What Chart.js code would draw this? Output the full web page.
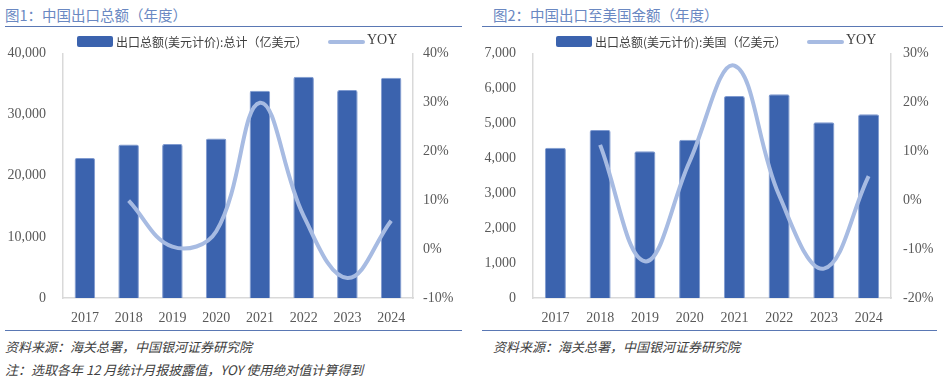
<!DOCTYPE html>
<html>
<head>
<meta charset="utf-8">
<script src="https://cdn.jsdelivr.net/npm/chart.js@4"></script>
<style>
  body { margin: 0; width: 943px; height: 384px; background: #fff; position: relative; overflow: hidden;
         font-family: "Noto Sans CJK SC", sans-serif; }
  .title { position: absolute; top: 4px; font-size: 14.5px; color: #6a88c2; white-space: nowrap; }
  .rule { position: absolute; height: 0; border-top: 1.5px solid #5a78b4; }
  .chart { position: absolute; top: 28px; height: 302px; }
  .legend { position: absolute; top: 33px; font-size: 12px; color: #404040; white-space: nowrap; z-index: 2; }
  .legend span { position: absolute; }
  .box { width: 36px; height: 11px; background: #3b63ae; border-radius: 2px; top: 3px; }
  .ln { width: 37px; height: 4px; background: #a7bbe2; border-radius: 2px; top: 7px; }
  .note { position: absolute; font-size: 13px; font-style: italic; color: #404040; white-space: nowrap; }
</style>
</head>
<body>
<div class="title" style="left:5px">图1：中国出口总额（年度）</div>
<div class="title" style="left:493px">图2：中国出口至美国金额（年度）</div>
<div class="rule" style="left:5px; width:457px; top:26px"></div>
<div class="rule" style="left:482px; width:461px; top:26px"></div>

<div class="chart" style="left:0; width:470px"><canvas id="c1"></canvas></div>
<div class="chart" style="left:470px; width:473px"><canvas id="c2"></canvas></div>

<div class="legend" style="left:0; width:470px">
  <span class="box" style="left:77px"></span>
  <span style="left:116px">出口总额(美元计价):总计（亿美元）</span>
  <span class="ln" style="left:328px"></span>
  <span style="left:367px; font-family:'Liberation Serif',serif; font-size:14px; top:-1px">YOY</span>
</div>
<div class="legend" style="left:470px; width:473px">
  <span class="box" style="left:86px"></span>
  <span style="left:125px">出口总额(美元计价):美国（亿美元）</span>
  <span class="ln" style="left:337px"></span>
  <span style="left:376px; font-family:'Liberation Serif',serif; font-size:14px; top:-1px">YOY</span>
</div>

<div class="rule" style="left:5px; width:457px; top:330px"></div>
<div class="rule" style="left:482px; width:455px; top:330px"></div>
<div class="note" style="left:5px; top:337px">资料来源：海关总署，中国银河证券研究院</div>
<div class="note" style="left:493px; top:337px">资料来源：海关总署，中国银河证券研究院</div>
<div class="note" style="left:5px; top:360px">注：选取各年 12 月统计月报披露值，YOY 使用绝对值计算得到</div>

<script>
// data
const years = ['2017', '2018', '2019', '2020', '2021', '2022', '2023', '2024'];
const totalExports = [22900, 25100, 25200, 26100, 33900, 36200, 34000, 36000];
const totalYoy = [null, 9.9, 0.5, 3.6, 29.9, 6.8, -5.9, 5.8];
const usExports = [4300, 4810, 4200, 4530, 5780, 5830, 5030, 5260];
const usYoy = [null, 11.3, -12.5, 7.9, 27.5, 1.0, -14.0, 4.9];
const totalTicks = [0, 10000, 20000, 30000, 40000];
const totalYoyTicks = [-10, 0, 10, 20, 30, 40];
const usTicks = [0, 1000, 2000, 3000, 4000, 5000, 6000, 7000];
const usYoyTicks = [-20, -10, 0, 10, 20, 30];

const BAR = '#3b63ae';
const LINE = '#a7bbe2';
const AXIS = '#d9d9d9';
const TICK = '#595959';
const tickFont = { family: "'Liberation Serif', serif", size: 14 };

function makeChart(id, bars, yoy, leftTicks, rightTicks, rightWidth, rightPad) {
    return new Chart(document.getElementById(id), {
        type: 'bar',
        data: {
            labels: years,
            datasets: [{
                type: 'line',
                data: yoy,
                yAxisID: 'y1',
                borderColor: LINE,
                borderWidth: 4,
                pointRadius: 0,
                tension: 0.4,
                fill: false,
                order: 0
            }, {
                type: 'bar',
                data: bars,
                yAxisID: 'y',
                backgroundColor: BAR,
                borderColor: '#7f9ad0',
                borderWidth: 1,
                borderRadius: 2,
                borderSkipped: 'bottom',
                barPercentage: 0.47,
                categoryPercentage: 1,
                order: 1
            }]
        },
        options: {
            responsive: true,
            maintainAspectRatio: false,
            animation: false,
            layout: { padding: { top: 10, left: 0, right: 0, bottom: 0 } },
            plugins: { legend: { display: false }, tooltip: { enabled: false } },
            scales: {
                x: {
                    grid: { display: false, drawTicks: false },
                    border: { display: true, color: AXIS, width: 1.5 },
                    ticks: { color: TICK, font: tickFont, padding: 12, maxRotation: 0 },
                    afterFit: s => { s.height = 32; }
                },
                y: {
                    position: 'left',
                    min: leftTicks[0],
                    max: leftTicks[leftTicks.length - 1],
                    grid: { display: false, drawTicks: false },
                    border: { display: true, color: AXIS, width: 1.5 },
                    ticks: {
                        stepSize: leftTicks[1] - leftTicks[0],
                        color: TICK, font: tickFont, padding: 17,
                        callback: v => v.toLocaleString('en-US')
                    },
                    afterFit: s => { s.width = 63; }
                },
                y1: {
                    position: 'right',
                    min: rightTicks[0],
                    max: rightTicks[rightTicks.length - 1],
                    grid: { display: false, drawTicks: false },
                    border: { display: true, color: AXIS, width: 1.5 },
                    ticks: {
                        stepSize: rightTicks[1] - rightTicks[0],
                        color: TICK, font: tickFont, padding: rightPad,
                        callback: v => v + '%'
                    },
                    afterFit: s => { s.width = rightWidth; }
                }
            }
        }
    });
}

makeChart('c1', totalExports, totalYoy, totalTicks, totalYoyTicks, 57, 10);
makeChart('c2', usExports, usYoy, usTicks, usYoyTicks, 52, 12);
</script>
</body>
</html>
